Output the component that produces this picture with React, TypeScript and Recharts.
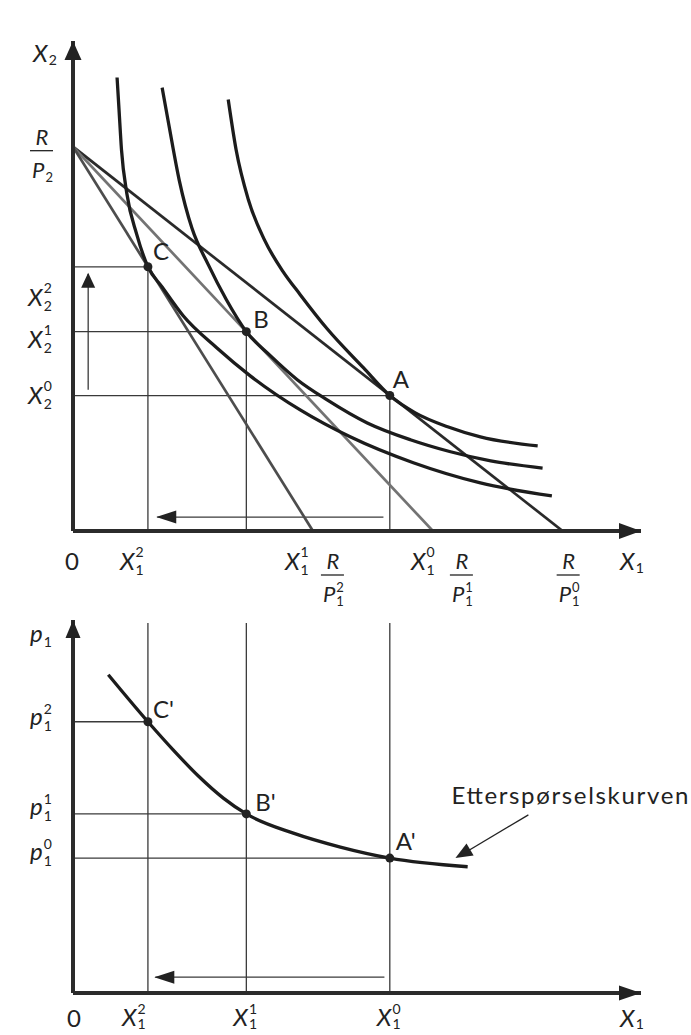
import React from 'react';
import { LineChart, Line, XAxis, YAxis, ReferenceLine, ReferenceDot } from 'recharts';

const INK = '#222';
const GUIDE = '#3a3a3a';
const FONT = 'Lato, "Noto Sans", sans-serif';

// axis extents (to the arrow tips)
const X_END = 11.6;
const Y_END_TOP = 10.2;
const Y_END_BOT = 7.77;

// budget: R/p2 on the X2 axis, R/p1 for the three prices on the X1 axis
const incomeOverP2 = 8;
const budgetEnds = [10, 7.35, 4.9]; // R/p1^0, R/p1^1, R/p1^2
const budgetColors = ['#2a2a2a', '#737373', '#4d4d4d'];

// optimal bundles A, B, C
const pointNames = ['A', 'B', 'C'];
const qtyX1 = [6.47, 3.54, 1.53];
const qtyX2 = [2.82, 4.15, 5.5];

// prices p1^0, p1^1, p1^2
const prices = [2.81, 3.73, 5.65];

// indifference curves
const curveU0 = [[3.17, 8.98], [3.33, 7.94], [3.58, 6.9], [3.91, 6.06], [4.29, 5.4], [4.64, 4.92], [5.19, 4.21], [5.93, 3.4], [6.47, 2.82], [6.99, 2.46], [7.65, 2.17], [8.32, 1.96], [9.49, 1.77]];
const curveU1 = [[1.82, 9.23], [1.96, 8.44], [2.17, 7.3], [2.43, 6.3], [2.76, 5.55], [3.13, 4.82], [3.54, 4.15], [4.03, 3.65], [4.58, 3.15], [5.19, 2.73], [6.01, 2.25], [6.89, 1.9], [7.71, 1.65], [8.53, 1.46], [9.59, 1.31]];
const curveU2 = [[0.9, 9.44], [0.94, 8.77], [0.99, 7.94], [1.1, 7.02], [1.3, 6.18], [1.53, 5.5], [1.82, 5.08], [2.25, 4.48], [2.94, 3.81], [3.62, 3.23], [4.64, 2.52], [5.66, 1.96], [6.95, 1.42], [8.32, 1.0], [9.78, 0.73]];

// demand curve
const demand = [[0.72, 6.63], [1.53, 5.65], [2.04, 5.07], [2.56, 4.52], [3.07, 4.06], [3.54, 3.73], [4.5, 3.33], [5.46, 3.04], [6.47, 2.81], [8.06, 2.63]];

const pts = (a: number[][]) => a.map(([x, y]) => ({ x, y }));
const at = (fn: (cx: number, cy: number) => React.ReactElement) => (p: any) => fn(p.cx, p.cy);

function Sym({ x, y, base, sub, sup, italic = true, supDy = -13, subDy = 5, size = 24, small = 14 }: any) {
  const digit = small * 0.58;
  return (
    <text x={x} y={y} fontFamily={FONT} fontSize={size} fill={INK}>
      <tspan fontStyle={italic ? 'italic' : 'normal'}>{base}</tspan>
      {sup != null && <tspan fontSize={small} dx={1} dy={supDy}>{sup}</tspan>}
      {sub != null && (
        <tspan fontSize={small} dx={sup != null ? -digit : 1} dy={sup != null ? subDy - supDy : subDy}>{sub}</tspan>
      )}
    </text>
  );
}

function Frac({ left, line, sub, sup }: any) {
  return (
    <g>
      <text x={left + 12} y={line - 6} textAnchor="middle" fontFamily={FONT} fontSize={22} fontStyle="italic" fill={INK}>R</text>
      <line x1={left} x2={left + 23} y1={line} y2={line} stroke={INK} strokeWidth={1.3} />
      <Sym x={left + 2} y={line + 27} base="P" sub={sub} sup={sup} supDy={-10} subDy={4} size={22} small={13} />
    </g>
  );
}

const head = (angle: number, len: number, half: number) => at((cx, cy) => (
  <polygon points={`0,0 ${-len},${-half} ${-len},${half}`} transform={`translate(${cx},${cy}) rotate(${angle})`} fill={INK} />
));

const mark = (name: string, dx: number, dy: number) => at((cx, cy) => (
  <g>
    <circle cx={cx} cy={cy} r={4.5} fill={INK} />
    <text x={cx + dx} y={cy + dy} fontFamily={FONT} fontSize={24} fill={INK}>{name}</text>
  </g>
));

const AXIS = { stroke: '#2b2b2b', strokeWidth: 4 };
const GUIDE_PROPS = { stroke: GUIDE, strokeWidth: 1.3, ifOverflow: 'visible' as const };

function TopChart() {
  const labelOffsets = [[3, -8], [7, -4], [5, -7]];
  const x2LabelDy = [8, 16, 39];
  return (
    <LineChart width={691} height={610} margin={{ top: 41, right: 50, bottom: 49, left: 13 }}>
      <XAxis type="number" dataKey="x" domain={[0, X_END]} allowDataOverflow tick={false} tickLine={false} height={30} axisLine={AXIS} />
      <YAxis type="number" domain={[0, Y_END_TOP]} allowDataOverflow tick={false} tickLine={false} width={60} axisLine={AXIS} />

      {qtyX1.map((q, i) => (
        <ReferenceLine key={'h' + i} segment={[{ x: 0, y: qtyX2[i] }, { x: q, y: qtyX2[i] }]} {...GUIDE_PROPS} />
      ))}
      {qtyX1.map((q, i) => (
        <ReferenceLine key={'v' + i} segment={[{ x: q, y: 0 }, { x: q, y: qtyX2[i] }]} {...GUIDE_PROPS} />
      ))}

      {/* price change arrows */}
      <ReferenceLine segment={[{ x: 0.31, y: 2.94 }, { x: 0.31, y: 5.35 }]} {...GUIDE_PROPS} />
      <ReferenceDot x={0.31} y={5.375} ifOverflow="visible" shape={head(-90, 15, 7)} />
      <ReferenceLine segment={[{ x: 6.34, y: 0.29 }, { x: 1.72, y: 0.29 }]} {...GUIDE_PROPS} />
      <ReferenceDot x={1.7} y={0.29} ifOverflow="visible" shape={head(180, 20, 6.5)} />

      {budgetEnds.map((b, i) => (
        <Line key={'b' + i} data={[{ x: 0, y: incomeOverP2 }, { x: b, y: 0 }]} dataKey="y" type="linear"
          stroke={budgetColors[i]} strokeWidth={2.7} dot={false} activeDot={false} isAnimationActive={false} />
      ))}
      {[curveU0, curveU1, curveU2].map((c, i) => (
        <Line key={'u' + i} data={pts(c)} dataKey="y" type="monotone" stroke="#1c1c1c" strokeWidth={3.3}
          dot={false} activeDot={false} isAnimationActive={false} />
      ))}

      {qtyX1.map((q, i) => (
        <ReferenceDot key={'p' + i} x={q} y={qtyX2[i]} ifOverflow="visible" shape={mark(pointNames[i], labelOffsets[i][0], labelOffsets[i][1])} />
      ))}

      {/* axis arrows */}
      <ReferenceDot x={X_END} y={0} ifOverflow="visible" shape={head(0, 22, 8)} />
      <ReferenceDot x={0} y={Y_END_TOP} ifOverflow="visible" shape={head(-90, 19, 8.5)} />

      {/* X2 axis labels */}
      <ReferenceDot x={0} y={Y_END_TOP} ifOverflow="visible" shape={at((cx, cy) => <Sym x={cx - 40} y={cy + 21} base="X" sub="2" subDy={3} />)} />
      <ReferenceDot x={0} y={incomeOverP2} ifOverflow="visible" shape={at((cx, cy) => <Frac left={cx - 43} line={cy + 4} sub="2" />)} />
      {qtyX2.map((v, i) => (
        <ReferenceDot key={'yl' + i} x={0} y={v} ifOverflow="visible"
          shape={at((cx, cy) => <Sym x={cx - 45} y={cy + x2LabelDy[i]} base="X" sub="2" sup={String(i)} />)} />
      ))}

      {/* X1 axis labels */}
      <ReferenceDot x={0} y={0} ifOverflow="visible" shape={at((cx, cy) => <Sym x={cx - 8} y={cy + 39} base="0" italic={false} />)} />
      <ReferenceDot x={qtyX1[2]} y={0} ifOverflow="visible" shape={at((cx, cy) => <Sym x={cx - 28} y={cy + 39} base="X" sub="1" sup="2" />)} />
      <ReferenceDot x={budgetEnds[2]} y={0} ifOverflow="visible" shape={at((cx, cy) => (
        <g>
          <Sym x={cx - 28} y={cy + 39} base="X" sub="1" sup="1" />
          <Frac left={cx + 8} line={cy + 44} sub="1" sup="2" />
        </g>
      ))} />
      <ReferenceDot x={budgetEnds[1]} y={0} ifOverflow="visible" shape={at((cx, cy) => (
        <g>
          <Sym x={cx - 22} y={cy + 39} base="X" sub="1" sup="0" />
          <Frac left={cx + 17} line={cy + 44} sub="1" sup="1" />
        </g>
      ))} />
      <ReferenceDot x={budgetEnds[0]} y={0} ifOverflow="visible" shape={at((cx, cy) => <Frac left={cx - 6} line={cy + 44} sub="1" sup="0" />)} />
      <ReferenceDot x={X_END} y={0} ifOverflow="visible" shape={at((cx, cy) => <Sym x={cx - 21} y={cy + 39} base="X" sub="1" subDy={3} />)} />
    </LineChart>
  );
}

function BottomChart() {
  const names = ["A'", "B'", "C'"];
  const labelOffsets = [[6, -8], [9, -3], [5, -4]];
  const pLabelDy = [2, 1, 3];
  const xLabelDx = [-13, -13, -26];
  return (
    <LineChart width={691} height={425} margin={{ top: 10, right: 50, bottom: 12, left: 13 }}>
      <XAxis type="number" dataKey="x" domain={[0, X_END]} allowDataOverflow tick={false} tickLine={false} height={30} axisLine={AXIS} />
      <YAxis type="number" domain={[0, Y_END_BOT]} allowDataOverflow tick={false} tickLine={false} width={60} axisLine={AXIS} />

      {qtyX1.map((q, i) => (
        <ReferenceLine key={'v' + i} segment={[{ x: q, y: 0 }, { x: q, y: 7.71 }]} {...GUIDE_PROPS} />
      ))}
      {qtyX1.map((q, i) => (
        <ReferenceLine key={'h' + i} segment={[{ x: 0, y: prices[i] }, { x: q, y: prices[i] }]} {...GUIDE_PROPS} />
      ))}

      <ReferenceLine segment={[{ x: 6.36, y: 0.33 }, { x: 1.68, y: 0.33 }]} {...GUIDE_PROPS} />
      <ReferenceDot x={1.66} y={0.33} ifOverflow="visible" shape={head(180, 20, 6.5)} />

      <Line data={pts(demand)} dataKey="y" type="monotone" stroke="#1c1c1c" strokeWidth={3.3}
        dot={false} activeDot={false} isAnimationActive={false} />

      {qtyX1.map((q, i) => (
        <ReferenceDot key={'p' + i} x={q} y={prices[i]} ifOverflow="visible" shape={mark(names[i], labelOffsets[i][0], labelOffsets[i][1])} />
      ))}

      {/* callout */}
      <ReferenceLine segment={[{ x: 9.3, y: 3.71 }, { x: 7.9, y: 2.86 }]} stroke={INK} strokeWidth={1.3} ifOverflow="visible" />
      <ReferenceDot x={7.81} y={2.81} ifOverflow="visible" shape={head(149.5, 17, 7)} />
      <ReferenceDot x={9.3} y={3.71} ifOverflow="visible" shape={at((cx, cy) => (
        <text x={cx - 77} y={cy - 11} fontFamily={FONT} fontSize={24} fill={INK} textLength={237} lengthAdjust="spacing">Etterspørselskurven</text>
      ))} />

      <ReferenceDot x={X_END} y={0} ifOverflow="visible" shape={head(0, 22, 7.5)} />
      <ReferenceDot x={0} y={Y_END_BOT} ifOverflow="visible" shape={head(-90, 18, 7.5)} />

      <ReferenceDot x={0} y={Y_END_BOT} ifOverflow="visible" shape={at((cx, cy) => <Sym x={cx - 43} y={cy + 22} base="p" sub="1" subDy={5} />)} />
      {prices.map((v, i) => (
        <ReferenceDot key={'yl' + i} x={0} y={v} ifOverflow="visible"
          shape={at((cx, cy) => <Sym x={cx - 43} y={cy + pLabelDy[i]} base="p" sub="1" sup={String(i)} supDy={-11} subDy={6} />)} />
      ))}

      <ReferenceDot x={0} y={0} ifOverflow="visible" shape={at((cx, cy) => <Sym x={cx - 6} y={cy + 34} base="0" italic={false} />)} />
      {qtyX1.map((q, i) => (
        <ReferenceDot key={'xl' + i} x={q} y={0} ifOverflow="visible"
          shape={at((cx, cy) => <Sym x={cx + xLabelDx[i]} y={cy + 33} base="X" sub="1" sup={String(i)} supDy={-12} subDy={3} />)} />
      ))}
      <ReferenceDot x={X_END} y={0} ifOverflow="visible" shape={at((cx, cy) => <Sym x={cx - 21} y={cy + 34} base="X" sub="1" subDy={2} />)} />
    </LineChart>
  );
}

export default function App() {
  return (
    <div style={{ position: 'absolute', left: 0, top: 0, width: 691, height: 1035, background: '#fff' }}>
      <div style={{ position: 'absolute', left: 0, top: 0 }}>
        <TopChart />
      </div>
      <div style={{ position: 'absolute', left: 0, top: 610 }}>
        <BottomChart />
      </div>
    </div>
  );
}
